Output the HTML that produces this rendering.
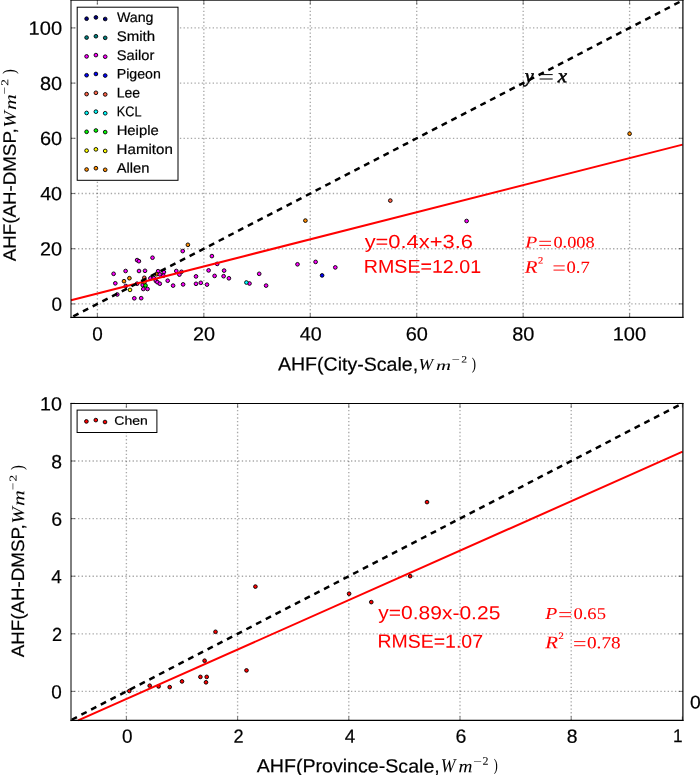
<!DOCTYPE html>
<html><head><meta charset="utf-8"><style>html,body{margin:0;padding:0;background:#fff;width:700px;height:775px;overflow:hidden;position:relative}</style></head><body>
<svg width="700" height="775" viewBox="0 0 700 775" style="position:absolute;left:0;top:0;will-change:transform">
<rect x="0" y="0" width="700" height="775" fill="#fff"/>
<line x1="97.40" y1="317.45" x2="97.40" y2="0.30" stroke="#000" stroke-opacity="0.34" stroke-width="1.35" stroke-dasharray="1.35 2.29" stroke-dashoffset="0.3"/>
<line x1="203.84" y1="317.45" x2="203.84" y2="0.30" stroke="#000" stroke-opacity="0.34" stroke-width="1.35" stroke-dasharray="1.35 2.29" stroke-dashoffset="0.3"/>
<line x1="310.28" y1="317.45" x2="310.28" y2="0.30" stroke="#000" stroke-opacity="0.34" stroke-width="1.35" stroke-dasharray="1.35 2.29" stroke-dashoffset="0.3"/>
<line x1="416.72" y1="317.45" x2="416.72" y2="0.30" stroke="#000" stroke-opacity="0.34" stroke-width="1.35" stroke-dasharray="1.35 2.29" stroke-dashoffset="0.3"/>
<line x1="523.16" y1="317.45" x2="523.16" y2="0.30" stroke="#000" stroke-opacity="0.34" stroke-width="1.35" stroke-dasharray="1.35 2.29" stroke-dashoffset="0.3"/>
<line x1="629.60" y1="317.45" x2="629.60" y2="0.30" stroke="#000" stroke-opacity="0.34" stroke-width="1.35" stroke-dasharray="1.35 2.29" stroke-dashoffset="0.3"/>
<line x1="71.00" y1="303.90" x2="682.90" y2="303.90" stroke="#000" stroke-opacity="0.34" stroke-width="1.35" stroke-dasharray="1.35 2.29" stroke-dashoffset="0.3"/>
<line x1="71.00" y1="248.70" x2="682.90" y2="248.70" stroke="#000" stroke-opacity="0.34" stroke-width="1.35" stroke-dasharray="1.35 2.29" stroke-dashoffset="0.3"/>
<line x1="71.00" y1="193.50" x2="682.90" y2="193.50" stroke="#000" stroke-opacity="0.34" stroke-width="1.35" stroke-dasharray="1.35 2.29" stroke-dashoffset="0.3"/>
<line x1="71.00" y1="138.30" x2="682.90" y2="138.30" stroke="#000" stroke-opacity="0.34" stroke-width="1.35" stroke-dasharray="1.35 2.29" stroke-dashoffset="0.3"/>
<line x1="71.00" y1="83.10" x2="682.90" y2="83.10" stroke="#000" stroke-opacity="0.34" stroke-width="1.35" stroke-dasharray="1.35 2.29" stroke-dashoffset="0.3"/>
<line x1="71.00" y1="27.90" x2="682.90" y2="27.90" stroke="#000" stroke-opacity="0.34" stroke-width="1.35" stroke-dasharray="1.35 2.29" stroke-dashoffset="0.3"/>
<circle cx="113.60" cy="273.80" r="1.85" fill="#ff00ff" stroke="#000" stroke-width="0.9"/>
<circle cx="115.30" cy="283.30" r="1.85" fill="#ff00ff" stroke="#000" stroke-width="0.9"/>
<circle cx="117.30" cy="294.50" r="1.85" fill="#ff00ff" stroke="#000" stroke-width="0.9"/>
<circle cx="124.00" cy="281.20" r="1.85" fill="#ff8c00" stroke="#000" stroke-width="0.9"/>
<circle cx="125.60" cy="271.00" r="1.85" fill="#ff00ff" stroke="#000" stroke-width="0.9"/>
<circle cx="125.80" cy="286.00" r="1.85" fill="#ff00ff" stroke="#000" stroke-width="0.9"/>
<circle cx="129.40" cy="278.20" r="1.85" fill="#ff8c00" stroke="#000" stroke-width="0.9"/>
<circle cx="130.00" cy="289.90" r="1.85" fill="#ffff00" stroke="#000" stroke-width="0.9"/>
<circle cx="134.30" cy="298.30" r="1.85" fill="#ff00ff" stroke="#000" stroke-width="0.9"/>
<circle cx="137.10" cy="260.10" r="1.85" fill="#ff00ff" stroke="#000" stroke-width="0.9"/>
<circle cx="138.90" cy="261.20" r="1.85" fill="#ff00ff" stroke="#000" stroke-width="0.9"/>
<circle cx="137.10" cy="283.70" r="1.85" fill="#ff00ff" stroke="#000" stroke-width="0.9"/>
<circle cx="139.00" cy="271.00" r="1.85" fill="#ff00ff" stroke="#000" stroke-width="0.9"/>
<circle cx="141.20" cy="298.20" r="1.85" fill="#ff00ff" stroke="#000" stroke-width="0.9"/>
<circle cx="142.70" cy="285.00" r="1.85" fill="#ff00ff" stroke="#000" stroke-width="0.9"/>
<circle cx="143.30" cy="289.00" r="1.85" fill="#ff00ff" stroke="#000" stroke-width="0.9"/>
<circle cx="144.40" cy="282.40" r="1.85" fill="#ff8c00" stroke="#000" stroke-width="0.9"/>
<circle cx="144.30" cy="277.80" r="1.85" fill="#ff6347" stroke="#000" stroke-width="0.9"/>
<circle cx="145.00" cy="270.80" r="1.85" fill="#ff00ff" stroke="#000" stroke-width="0.9"/>
<circle cx="145.50" cy="285.50" r="1.85" fill="#00ff00" stroke="#000" stroke-width="0.9"/>
<circle cx="147.50" cy="289.00" r="1.85" fill="#ff00ff" stroke="#000" stroke-width="0.9"/>
<circle cx="150.40" cy="278.30" r="1.85" fill="#ff00ff" stroke="#000" stroke-width="0.9"/>
<circle cx="153.80" cy="278.10" r="1.85" fill="#ff00ff" stroke="#000" stroke-width="0.9"/>
<circle cx="152.50" cy="257.70" r="1.85" fill="#ff00ff" stroke="#000" stroke-width="0.9"/>
<circle cx="158.10" cy="271.20" r="1.85" fill="#ff00ff" stroke="#000" stroke-width="0.9"/>
<circle cx="163.90" cy="272.10" r="1.85" fill="#ff00ff" stroke="#000" stroke-width="0.9"/>
<circle cx="156.60" cy="274.20" r="1.85" fill="#ff8c00" stroke="#000" stroke-width="0.9"/>
<circle cx="159.80" cy="274.40" r="1.85" fill="#ff00ff" stroke="#000" stroke-width="0.9"/>
<circle cx="163.40" cy="275.70" r="1.85" fill="#ff00ff" stroke="#000" stroke-width="0.9"/>
<circle cx="155.90" cy="280.90" r="1.85" fill="#ff00ff" stroke="#000" stroke-width="0.9"/>
<circle cx="157.40" cy="282.20" r="1.85" fill="#ff00ff" stroke="#000" stroke-width="0.9"/>
<circle cx="159.80" cy="283.70" r="1.85" fill="#ff00ff" stroke="#000" stroke-width="0.9"/>
<circle cx="167.70" cy="280.70" r="1.85" fill="#ff00ff" stroke="#000" stroke-width="0.9"/>
<circle cx="173.10" cy="285.60" r="1.85" fill="#ff00ff" stroke="#000" stroke-width="0.9"/>
<circle cx="176.30" cy="271.00" r="1.85" fill="#ff00ff" stroke="#000" stroke-width="0.9"/>
<circle cx="181.50" cy="271.80" r="1.85" fill="#ff00ff" stroke="#000" stroke-width="0.9"/>
<circle cx="179.40" cy="274.60" r="1.85" fill="#ff00ff" stroke="#000" stroke-width="0.9"/>
<circle cx="183.10" cy="284.40" r="1.85" fill="#ff00ff" stroke="#000" stroke-width="0.9"/>
<circle cx="182.70" cy="251.10" r="1.85" fill="#ff00ff" stroke="#000" stroke-width="0.9"/>
<circle cx="187.90" cy="244.80" r="1.85" fill="#ff8c00" stroke="#000" stroke-width="0.9"/>
<circle cx="196.00" cy="276.40" r="1.85" fill="#ff00ff" stroke="#000" stroke-width="0.9"/>
<circle cx="196.00" cy="283.80" r="1.85" fill="#ff00ff" stroke="#000" stroke-width="0.9"/>
<circle cx="200.80" cy="282.80" r="1.85" fill="#ff00ff" stroke="#000" stroke-width="0.9"/>
<circle cx="207.00" cy="284.60" r="1.85" fill="#ff00ff" stroke="#000" stroke-width="0.9"/>
<circle cx="208.60" cy="270.40" r="1.85" fill="#ff00ff" stroke="#000" stroke-width="0.9"/>
<circle cx="211.90" cy="256.10" r="1.85" fill="#ff00ff" stroke="#000" stroke-width="0.9"/>
<circle cx="214.60" cy="275.90" r="1.85" fill="#ff00ff" stroke="#000" stroke-width="0.9"/>
<circle cx="217.20" cy="263.90" r="1.85" fill="#ff00ff" stroke="#000" stroke-width="0.9"/>
<circle cx="223.60" cy="276.20" r="1.85" fill="#ff00ff" stroke="#000" stroke-width="0.9"/>
<circle cx="224.10" cy="270.60" r="1.85" fill="#ff00ff" stroke="#000" stroke-width="0.9"/>
<circle cx="228.90" cy="278.30" r="1.85" fill="#ff00ff" stroke="#000" stroke-width="0.9"/>
<circle cx="249.50" cy="283.50" r="1.85" fill="#ff00ff" stroke="#000" stroke-width="0.9"/>
<circle cx="246.40" cy="282.50" r="1.85" fill="#00ffff" stroke="#000" stroke-width="0.9"/>
<circle cx="259.20" cy="273.80" r="1.85" fill="#ff00ff" stroke="#000" stroke-width="0.9"/>
<circle cx="266.10" cy="285.60" r="1.85" fill="#ff00ff" stroke="#000" stroke-width="0.9"/>
<circle cx="297.50" cy="264.30" r="1.85" fill="#ff00ff" stroke="#000" stroke-width="0.9"/>
<circle cx="305.40" cy="220.60" r="1.85" fill="#ff8c00" stroke="#000" stroke-width="0.9"/>
<circle cx="315.60" cy="261.90" r="1.85" fill="#ff00ff" stroke="#000" stroke-width="0.9"/>
<circle cx="322.10" cy="275.40" r="1.85" fill="#0000ff" stroke="#000" stroke-width="0.9"/>
<circle cx="335.30" cy="267.40" r="1.85" fill="#ff00ff" stroke="#000" stroke-width="0.9"/>
<circle cx="390.30" cy="200.60" r="1.85" fill="#ff6347" stroke="#000" stroke-width="0.9"/>
<circle cx="466.60" cy="221.00" r="1.85" fill="#ff00ff" stroke="#000" stroke-width="0.9"/>
<circle cx="629.60" cy="133.70" r="1.85" fill="#ff8c00" stroke="#000" stroke-width="0.9"/>
<line x1="71.0" y1="300.2" x2="682.6" y2="144.6" stroke="#ff0000" stroke-width="2"/>
<line x1="70.79" y1="317.70" x2="682.82" y2="0.30" stroke="#000" stroke-width="2.5" stroke-dasharray="5.9 5.02" stroke-dashoffset="-2.8"/>
<line x1="97.40" y1="317.45" x2="97.40" y2="313.45" stroke="#000" stroke-opacity="0.5" stroke-width="1.1"/>
<line x1="97.40" y1="0.30" x2="97.40" y2="4.30" stroke="#000" stroke-opacity="0.5" stroke-width="1.1"/>
<line x1="203.84" y1="317.45" x2="203.84" y2="313.45" stroke="#000" stroke-opacity="0.5" stroke-width="1.1"/>
<line x1="203.84" y1="0.30" x2="203.84" y2="4.30" stroke="#000" stroke-opacity="0.5" stroke-width="1.1"/>
<line x1="310.28" y1="317.45" x2="310.28" y2="313.45" stroke="#000" stroke-opacity="0.5" stroke-width="1.1"/>
<line x1="310.28" y1="0.30" x2="310.28" y2="4.30" stroke="#000" stroke-opacity="0.5" stroke-width="1.1"/>
<line x1="416.72" y1="317.45" x2="416.72" y2="313.45" stroke="#000" stroke-opacity="0.5" stroke-width="1.1"/>
<line x1="416.72" y1="0.30" x2="416.72" y2="4.30" stroke="#000" stroke-opacity="0.5" stroke-width="1.1"/>
<line x1="523.16" y1="317.45" x2="523.16" y2="313.45" stroke="#000" stroke-opacity="0.5" stroke-width="1.1"/>
<line x1="523.16" y1="0.30" x2="523.16" y2="4.30" stroke="#000" stroke-opacity="0.5" stroke-width="1.1"/>
<line x1="629.60" y1="317.45" x2="629.60" y2="313.45" stroke="#000" stroke-opacity="0.5" stroke-width="1.1"/>
<line x1="629.60" y1="0.30" x2="629.60" y2="4.30" stroke="#000" stroke-opacity="0.5" stroke-width="1.1"/>
<line x1="71.00" y1="303.90" x2="75.00" y2="303.90" stroke="#000" stroke-opacity="0.5" stroke-width="1.1"/>
<line x1="682.90" y1="303.90" x2="678.90" y2="303.90" stroke="#000" stroke-opacity="0.5" stroke-width="1.1"/>
<line x1="71.00" y1="248.70" x2="75.00" y2="248.70" stroke="#000" stroke-opacity="0.5" stroke-width="1.1"/>
<line x1="682.90" y1="248.70" x2="678.90" y2="248.70" stroke="#000" stroke-opacity="0.5" stroke-width="1.1"/>
<line x1="71.00" y1="193.50" x2="75.00" y2="193.50" stroke="#000" stroke-opacity="0.5" stroke-width="1.1"/>
<line x1="682.90" y1="193.50" x2="678.90" y2="193.50" stroke="#000" stroke-opacity="0.5" stroke-width="1.1"/>
<line x1="71.00" y1="138.30" x2="75.00" y2="138.30" stroke="#000" stroke-opacity="0.5" stroke-width="1.1"/>
<line x1="682.90" y1="138.30" x2="678.90" y2="138.30" stroke="#000" stroke-opacity="0.5" stroke-width="1.1"/>
<line x1="71.00" y1="83.10" x2="75.00" y2="83.10" stroke="#000" stroke-opacity="0.5" stroke-width="1.1"/>
<line x1="682.90" y1="83.10" x2="678.90" y2="83.10" stroke="#000" stroke-opacity="0.5" stroke-width="1.1"/>
<line x1="71.00" y1="27.90" x2="75.00" y2="27.90" stroke="#000" stroke-opacity="0.5" stroke-width="1.1"/>
<line x1="682.90" y1="27.90" x2="678.90" y2="27.90" stroke="#000" stroke-opacity="0.5" stroke-width="1.1"/>
<line x1="71.0" y1="-0.30" x2="71.0" y2="318.10" stroke="#000" stroke-width="1.0"/>
<line x1="682.9" y1="-0.30" x2="682.9" y2="318.10" stroke="#000" stroke-width="1.2"/>
<line x1="70.50" y1="0.2" x2="683.50" y2="0.2" stroke="#000" stroke-width="1.0"/>
<line x1="70.50" y1="317.45" x2="683.50" y2="317.45" stroke="#000" stroke-width="1.3"/>
<text transform="matrix(0.9894,0.001,0,1,92.30,340.38)" font-family='"Liberation Sans", sans-serif' font-size="19.14" fill="#000" stroke="#000" stroke-width="0.2">0</text>
<text transform="matrix(1.0367,0.001,0,1,192.88,340.38)" font-family='"Liberation Sans", sans-serif' font-size="19.14" fill="#000" stroke="#000" stroke-width="0.2">20</text>
<text transform="matrix(1.0295,0.001,0,1,299.69,340.38)" font-family='"Liberation Sans", sans-serif' font-size="19.14" fill="#000" stroke="#000" stroke-width="0.2">40</text>
<text transform="matrix(1.0413,0.001,0,1,405.71,340.38)" font-family='"Liberation Sans", sans-serif' font-size="19.14" fill="#000" stroke="#000" stroke-width="0.2">60</text>
<text transform="matrix(1.0408,0.001,0,1,512.20,340.38)" font-family='"Liberation Sans", sans-serif' font-size="19.14" fill="#000" stroke="#000" stroke-width="0.2">80</text>
<text transform="matrix(1.0493,0.001,0,1,612.68,340.38)" font-family='"Liberation Sans", sans-serif' font-size="19.14" fill="#000" stroke="#000" stroke-width="0.2">100</text>
<text transform="matrix(0.9894,0.001,0,1,51.50,310.70)" font-family='"Liberation Sans", sans-serif' font-size="19.14" fill="#000" stroke="#000" stroke-width="0.2">0</text>
<text transform="matrix(1.0367,0.001,0,1,40.02,255.50)" font-family='"Liberation Sans", sans-serif' font-size="19.14" fill="#000" stroke="#000" stroke-width="0.2">20</text>
<text transform="matrix(1.0295,0.001,0,1,40.17,200.30)" font-family='"Liberation Sans", sans-serif' font-size="19.14" fill="#000" stroke="#000" stroke-width="0.2">40</text>
<text transform="matrix(1.0413,0.001,0,1,39.92,145.10)" font-family='"Liberation Sans", sans-serif' font-size="19.14" fill="#000" stroke="#000" stroke-width="0.2">60</text>
<text transform="matrix(1.0408,0.001,0,1,39.93,89.90)" font-family='"Liberation Sans", sans-serif' font-size="19.14" fill="#000" stroke="#000" stroke-width="0.2">80</text>
<text transform="matrix(1.0493,0.001,0,1,28.61,34.70)" font-family='"Liberation Sans", sans-serif' font-size="19.14" fill="#000" stroke="#000" stroke-width="0.2">100</text>
<text transform="matrix(1.0311,0.001,0,1,277.95,370.55)" font-family='"Liberation Sans", sans-serif' font-size="18.99" fill="#000" stroke="#000" stroke-width="0.2">AHF(City-Scale,</text>
<text transform="matrix(1.0643,0.001,0,1,418.50,369.70)" font-family='"Liberation Serif", serif' font-size="16.57" fill="#000" stroke="#000" stroke-width="0.05" style="font-style:italic">W</text>
<text transform="matrix(1.5022,0.001,0,1,436.12,369.95)" font-family='"Liberation Serif", serif' font-size="13.83" fill="#000" stroke="#000" stroke-width="0.05" style="font-style:italic">m</text>
<text transform="matrix(1.4194,0.001,0,1,451.84,362.40)" font-family='"Liberation Serif", serif' font-size="10.00" fill="#000" stroke="#000" stroke-width="0.05">−</text>
<text transform="matrix(1.1931,0.001,0,1,461.32,362.55)" font-family='"Liberation Serif", serif' font-size="9.85" fill="#000" stroke="#000" stroke-width="0.05">2</text>
<text transform="matrix(0.7549,0.001,0,1,471.67,369.14)" font-family='"Liberation Serif", serif' font-size="16.81" fill="#000" stroke="#000" stroke-width="0.05">)</text>
<g transform="rotate(-90)">
<text transform="matrix(1.0446,0.001,0,1,-261.35,15.65)" font-family='"Liberation Sans", sans-serif' font-size="17.97" fill="#000" stroke="#000" stroke-width="0.2">AHF(AH-DMSP,</text>
<text transform="matrix(1.0902,0.001,0,1,-127.52,15.68)" font-family='"Liberation Serif", serif' font-size="17.91" fill="#000" stroke="#000" stroke-width="0.05" style="font-style:italic">W</text>
<text transform="matrix(1.3172,0.001,0,1,-110.02,15.95)" font-family='"Liberation Serif", serif' font-size="16.60" fill="#000" stroke="#000" stroke-width="0.05" style="font-style:italic">m</text>
<text transform="matrix(1.3548,0.001,0,1,-94.43,7.90)" font-family='"Liberation Serif", serif' font-size="10.00" fill="#000" stroke="#000" stroke-width="0.05">−</text>
<text transform="matrix(1.2674,0.001,0,1,-85.65,8.35)" font-family='"Liberation Serif", serif' font-size="10.45" fill="#000" stroke="#000" stroke-width="0.05">2</text>
<text transform="matrix(0.8261,0.001,0,1,-74.09,14.75)" font-family='"Liberation Serif", serif' font-size="17.69" fill="#000" stroke="#000" stroke-width="0.05">)</text>
</g>
<rect x="77.2" y="7.2" width="100.8" height="173.1" fill="#fff" stroke="#000" stroke-width="1"/>
<circle cx="86.60" cy="18.70" r="1.85" fill="#000080" stroke="#000" stroke-width="0.9"/>
<circle cx="95.90" cy="17.40" r="1.85" fill="#000080" stroke="#000" stroke-width="0.9"/>
<circle cx="105.20" cy="19.00" r="1.85" fill="#000080" stroke="#000" stroke-width="0.9"/>
<text transform="matrix(1.0243,0.001,0,1,116.89,22.08)" font-family='"Liberation Sans", sans-serif' font-size="13.89" fill="#000" stroke="#000" stroke-width="0.2">Wang</text>
<circle cx="86.60" cy="37.55" r="1.85" fill="#008080" stroke="#000" stroke-width="0.9"/>
<circle cx="95.90" cy="36.25" r="1.85" fill="#008080" stroke="#000" stroke-width="0.9"/>
<circle cx="105.20" cy="37.85" r="1.85" fill="#008080" stroke="#000" stroke-width="0.9"/>
<text transform="matrix(1.0725,0.001,0,1,116.69,41.08)" font-family='"Liberation Sans", sans-serif' font-size="14.02" fill="#000" stroke="#000" stroke-width="0.2">Smith</text>
<circle cx="86.60" cy="56.40" r="1.85" fill="#ff00ff" stroke="#000" stroke-width="0.9"/>
<circle cx="95.90" cy="55.10" r="1.85" fill="#ff00ff" stroke="#000" stroke-width="0.9"/>
<circle cx="105.20" cy="56.70" r="1.85" fill="#ff00ff" stroke="#000" stroke-width="0.9"/>
<text transform="matrix(1.0491,0.001,0,1,116.70,59.90)" font-family='"Liberation Sans", sans-serif' font-size="14.02" fill="#000" stroke="#000" stroke-width="0.2">Sailor</text>
<circle cx="86.60" cy="75.25" r="1.85" fill="#0000ff" stroke="#000" stroke-width="0.9"/>
<circle cx="95.90" cy="73.95" r="1.85" fill="#0000ff" stroke="#000" stroke-width="0.9"/>
<circle cx="105.20" cy="75.55" r="1.85" fill="#0000ff" stroke="#000" stroke-width="0.9"/>
<text transform="matrix(1.0288,0.001,0,1,116.69,78.56)" font-family='"Liberation Sans", sans-serif' font-size="13.80" fill="#000" stroke="#000" stroke-width="0.2">Pigeon</text>
<circle cx="86.60" cy="94.10" r="1.85" fill="#ff6347" stroke="#000" stroke-width="0.9"/>
<circle cx="95.90" cy="92.80" r="1.85" fill="#ff6347" stroke="#000" stroke-width="0.9"/>
<circle cx="105.20" cy="94.40" r="1.85" fill="#ff6347" stroke="#000" stroke-width="0.9"/>
<text transform="matrix(0.9884,0.001,0,1,116.71,97.54)" font-family='"Liberation Sans", sans-serif' font-size="14.16" fill="#000" stroke="#000" stroke-width="0.2">Lee</text>
<circle cx="86.60" cy="112.95" r="1.85" fill="#00ffff" stroke="#000" stroke-width="0.9"/>
<circle cx="95.90" cy="111.65" r="1.85" fill="#00ffff" stroke="#000" stroke-width="0.9"/>
<circle cx="105.20" cy="113.25" r="1.85" fill="#00ffff" stroke="#000" stroke-width="0.9"/>
<text transform="matrix(0.8968,0.001,0,1,116.82,116.36)" font-family='"Liberation Sans", sans-serif' font-size="14.14" fill="#000" stroke="#000" stroke-width="0.2">KCL</text>
<circle cx="86.60" cy="131.80" r="1.85" fill="#00ff00" stroke="#000" stroke-width="0.9"/>
<circle cx="95.90" cy="130.50" r="1.85" fill="#00ff00" stroke="#000" stroke-width="0.9"/>
<circle cx="105.20" cy="132.10" r="1.85" fill="#00ff00" stroke="#000" stroke-width="0.9"/>
<text transform="matrix(1.0760,0.001,0,1,116.64,135.02)" font-family='"Liberation Sans", sans-serif' font-size="13.80" fill="#000" stroke="#000" stroke-width="0.2">Heiple</text>
<circle cx="86.60" cy="150.65" r="1.85" fill="#ffff00" stroke="#000" stroke-width="0.9"/>
<circle cx="95.90" cy="149.35" r="1.85" fill="#ffff00" stroke="#000" stroke-width="0.9"/>
<circle cx="105.20" cy="150.95" r="1.85" fill="#ffff00" stroke="#000" stroke-width="0.9"/>
<text transform="matrix(1.0782,0.001,0,1,116.62,154.00)" font-family='"Liberation Sans", sans-serif' font-size="14.02" fill="#000" stroke="#000" stroke-width="0.2">Hamiton</text>
<circle cx="86.60" cy="169.50" r="1.85" fill="#ff8c00" stroke="#000" stroke-width="0.9"/>
<circle cx="95.90" cy="168.20" r="1.85" fill="#ff8c00" stroke="#000" stroke-width="0.9"/>
<circle cx="105.20" cy="169.80" r="1.85" fill="#ff8c00" stroke="#000" stroke-width="0.9"/>
<text transform="matrix(1.0516,0.001,0,1,116.63,172.82)" font-family='"Liberation Sans", sans-serif' font-size="14.02" fill="#000" stroke="#000" stroke-width="0.2">Allen</text>
<text transform="matrix(1.1623,0.001,0,1,364.64,248.00)" font-family='"Liberation Sans", sans-serif' font-size="18.84" fill="#ff0000" stroke="#ff0000" stroke-width="0">y=0.4x+3.6</text>
<text transform="matrix(1.0506,0.001,0,1,363.78,272.80)" font-family='"Liberation Sans", sans-serif' font-size="18.70" fill="#ff0000" stroke="#ff0000" stroke-width="0.05">RMSE=12.01</text>
<text transform="matrix(1.1924,0.001,0,1,525.15,247.55)" font-family='"Liberation Serif", serif' font-size="16.49" fill="#ff0000" stroke="#ff0000" stroke-width="0.05" style="font-style:italic">P</text>
<line x1="539.3" y1="241.3" x2="551.0" y2="241.3" stroke="#ff0000" stroke-width="0.95"/><line x1="539.3" y1="245.4" x2="551.0" y2="245.4" stroke="#ff0000" stroke-width="0.95"/>
<text transform="matrix(1.1310,0.001,0,1,553.42,247.51)" font-family='"Liberation Serif", serif' font-size="16.18" fill="#ff0000" stroke="#ff0000" stroke-width="0.05">0.008</text>
<text transform="matrix(1.1764,0.001,0,1,524.85,272.65)" font-family='"Liberation Serif", serif' font-size="17.71" fill="#ff0000" stroke="#ff0000" stroke-width="0.05" style="font-style:italic">R</text>
<text transform="matrix(1.0662,0.001,0,1,538.03,263.60)" font-family='"Liberation Serif", serif' font-size="9.85" fill="#ff0000" stroke="#ff0000" stroke-width="0.15">2</text>
<line x1="553.5" y1="265.9" x2="564.7" y2="265.9" stroke="#ff0000" stroke-width="0.95"/><line x1="553.5" y1="270.1" x2="564.7" y2="270.1" stroke="#ff0000" stroke-width="0.95"/>
<text transform="matrix(1.1070,0.001,0,1,566.61,272.70)" font-family='"Liberation Serif", serif' font-size="16.76" fill="#ff0000" stroke="#ff0000" stroke-width="0.05">0.7</text>
<text transform="matrix(1.0246,0.001,0,1,524.87,82.21)" font-family='"Liberation Serif", serif' font-size="19.70" fill="#000" stroke="#000" stroke-width="0.55" style="font-style:italic">y</text>
<line x1="539.6" y1="74.6" x2="552.7" y2="74.6" stroke="#000" stroke-width="1.0"/><line x1="539.6" y1="79.0" x2="552.7" y2="79.0" stroke="#000" stroke-width="1.0"/>
<text transform="matrix(1.0677,0.001,0,1,557.76,82.15)" font-family='"Liberation Serif", serif' font-size="19.57" fill="#000" stroke="#000" stroke-width="0.55" style="font-style:italic">x</text>
<line x1="126.40" y1="720.45" x2="126.40" y2="403.45" stroke="#000" stroke-opacity="0.34" stroke-width="1.35" stroke-dasharray="1.35 2.29" stroke-dashoffset="0.3"/>
<line x1="237.60" y1="720.45" x2="237.60" y2="403.45" stroke="#000" stroke-opacity="0.34" stroke-width="1.35" stroke-dasharray="1.35 2.29" stroke-dashoffset="0.3"/>
<line x1="348.80" y1="720.45" x2="348.80" y2="403.45" stroke="#000" stroke-opacity="0.34" stroke-width="1.35" stroke-dasharray="1.35 2.29" stroke-dashoffset="0.3"/>
<line x1="460.00" y1="720.45" x2="460.00" y2="403.45" stroke="#000" stroke-opacity="0.34" stroke-width="1.35" stroke-dasharray="1.35 2.29" stroke-dashoffset="0.3"/>
<line x1="571.20" y1="720.45" x2="571.20" y2="403.45" stroke="#000" stroke-opacity="0.34" stroke-width="1.35" stroke-dasharray="1.35 2.29" stroke-dashoffset="0.3"/>
<line x1="71.00" y1="691.40" x2="682.90" y2="691.40" stroke="#000" stroke-opacity="0.34" stroke-width="1.35" stroke-dasharray="1.35 2.29" stroke-dashoffset="0.3"/>
<line x1="71.00" y1="633.80" x2="682.90" y2="633.80" stroke="#000" stroke-opacity="0.34" stroke-width="1.35" stroke-dasharray="1.35 2.29" stroke-dashoffset="0.3"/>
<line x1="71.00" y1="576.20" x2="682.90" y2="576.20" stroke="#000" stroke-opacity="0.34" stroke-width="1.35" stroke-dasharray="1.35 2.29" stroke-dashoffset="0.3"/>
<line x1="71.00" y1="518.60" x2="682.90" y2="518.60" stroke="#000" stroke-opacity="0.34" stroke-width="1.35" stroke-dasharray="1.35 2.29" stroke-dashoffset="0.3"/>
<line x1="71.00" y1="461.00" x2="682.90" y2="461.00" stroke="#000" stroke-opacity="0.34" stroke-width="1.35" stroke-dasharray="1.35 2.29" stroke-dashoffset="0.3"/>
<circle cx="129.30" cy="691.00" r="1.85" fill="#ff0000" stroke="#000" stroke-width="0.9"/>
<circle cx="149.70" cy="685.70" r="1.85" fill="#ff0000" stroke="#000" stroke-width="0.9"/>
<circle cx="158.60" cy="686.40" r="1.85" fill="#ff0000" stroke="#000" stroke-width="0.9"/>
<circle cx="169.70" cy="687.10" r="1.85" fill="#ff0000" stroke="#000" stroke-width="0.9"/>
<circle cx="182.00" cy="681.40" r="1.85" fill="#ff0000" stroke="#000" stroke-width="0.9"/>
<circle cx="200.40" cy="676.90" r="1.85" fill="#ff0000" stroke="#000" stroke-width="0.9"/>
<circle cx="206.70" cy="676.90" r="1.85" fill="#ff0000" stroke="#000" stroke-width="0.9"/>
<circle cx="206.00" cy="682.30" r="1.85" fill="#ff0000" stroke="#000" stroke-width="0.9"/>
<circle cx="204.60" cy="660.70" r="1.85" fill="#ff0000" stroke="#000" stroke-width="0.9"/>
<circle cx="215.50" cy="631.80" r="1.85" fill="#ff0000" stroke="#000" stroke-width="0.9"/>
<circle cx="246.50" cy="670.40" r="1.85" fill="#ff0000" stroke="#000" stroke-width="0.9"/>
<circle cx="255.40" cy="586.60" r="1.85" fill="#ff0000" stroke="#000" stroke-width="0.9"/>
<circle cx="349.10" cy="593.70" r="1.85" fill="#ff0000" stroke="#000" stroke-width="0.9"/>
<circle cx="371.30" cy="602.10" r="1.85" fill="#ff0000" stroke="#000" stroke-width="0.9"/>
<circle cx="410.20" cy="576.20" r="1.85" fill="#ff0000" stroke="#000" stroke-width="0.9"/>
<circle cx="427.00" cy="502.10" r="1.85" fill="#ff0000" stroke="#000" stroke-width="0.9"/>
<line x1="78.2" y1="720.4" x2="682.6" y2="451.7" stroke="#ff0000" stroke-width="2"/>
<line x1="70.80" y1="720.20" x2="682.40" y2="403.40" stroke="#000" stroke-width="2.5" stroke-dasharray="5.9 5.03" stroke-dashoffset="-1.0"/>
<line x1="126.40" y1="720.45" x2="126.40" y2="716.45" stroke="#000" stroke-opacity="0.5" stroke-width="1.1"/>
<line x1="126.40" y1="403.45" x2="126.40" y2="407.45" stroke="#000" stroke-opacity="0.5" stroke-width="1.1"/>
<line x1="237.60" y1="720.45" x2="237.60" y2="716.45" stroke="#000" stroke-opacity="0.5" stroke-width="1.1"/>
<line x1="237.60" y1="403.45" x2="237.60" y2="407.45" stroke="#000" stroke-opacity="0.5" stroke-width="1.1"/>
<line x1="348.80" y1="720.45" x2="348.80" y2="716.45" stroke="#000" stroke-opacity="0.5" stroke-width="1.1"/>
<line x1="348.80" y1="403.45" x2="348.80" y2="407.45" stroke="#000" stroke-opacity="0.5" stroke-width="1.1"/>
<line x1="460.00" y1="720.45" x2="460.00" y2="716.45" stroke="#000" stroke-opacity="0.5" stroke-width="1.1"/>
<line x1="460.00" y1="403.45" x2="460.00" y2="407.45" stroke="#000" stroke-opacity="0.5" stroke-width="1.1"/>
<line x1="571.20" y1="720.45" x2="571.20" y2="716.45" stroke="#000" stroke-opacity="0.5" stroke-width="1.1"/>
<line x1="571.20" y1="403.45" x2="571.20" y2="407.45" stroke="#000" stroke-opacity="0.5" stroke-width="1.1"/>
<line x1="682.40" y1="720.45" x2="682.40" y2="716.45" stroke="#000" stroke-opacity="0.5" stroke-width="1.1"/>
<line x1="682.40" y1="403.45" x2="682.40" y2="407.45" stroke="#000" stroke-opacity="0.5" stroke-width="1.1"/>
<line x1="71.00" y1="691.40" x2="75.00" y2="691.40" stroke="#000" stroke-opacity="0.5" stroke-width="1.1"/>
<line x1="682.90" y1="691.40" x2="678.90" y2="691.40" stroke="#000" stroke-opacity="0.5" stroke-width="1.1"/>
<line x1="71.00" y1="633.80" x2="75.00" y2="633.80" stroke="#000" stroke-opacity="0.5" stroke-width="1.1"/>
<line x1="682.90" y1="633.80" x2="678.90" y2="633.80" stroke="#000" stroke-opacity="0.5" stroke-width="1.1"/>
<line x1="71.00" y1="576.20" x2="75.00" y2="576.20" stroke="#000" stroke-opacity="0.5" stroke-width="1.1"/>
<line x1="682.90" y1="576.20" x2="678.90" y2="576.20" stroke="#000" stroke-opacity="0.5" stroke-width="1.1"/>
<line x1="71.00" y1="518.60" x2="75.00" y2="518.60" stroke="#000" stroke-opacity="0.5" stroke-width="1.1"/>
<line x1="682.90" y1="518.60" x2="678.90" y2="518.60" stroke="#000" stroke-opacity="0.5" stroke-width="1.1"/>
<line x1="71.00" y1="461.00" x2="75.00" y2="461.00" stroke="#000" stroke-opacity="0.5" stroke-width="1.1"/>
<line x1="682.90" y1="461.00" x2="678.90" y2="461.00" stroke="#000" stroke-opacity="0.5" stroke-width="1.1"/>
<line x1="71.00" y1="403.40" x2="75.00" y2="403.40" stroke="#000" stroke-opacity="0.5" stroke-width="1.1"/>
<line x1="682.90" y1="403.40" x2="678.90" y2="403.40" stroke="#000" stroke-opacity="0.5" stroke-width="1.1"/>
<line x1="71.0" y1="402.90" x2="71.0" y2="721.10" stroke="#000" stroke-width="1.0"/>
<line x1="682.9" y1="402.90" x2="682.9" y2="721.10" stroke="#000" stroke-width="1.2"/>
<line x1="70.50" y1="403.45" x2="683.50" y2="403.45" stroke="#000" stroke-width="1.1"/>
<line x1="70.50" y1="720.45" x2="683.50" y2="720.45" stroke="#000" stroke-width="1.3"/>
<text transform="matrix(0.9894,0.001,0,1,122.10,742.78)" font-family='"Liberation Sans", sans-serif' font-size="19.14" fill="#000" stroke="#000" stroke-width="0.2">0</text>
<text transform="matrix(0.9563,0.001,0,1,233.55,742.70)" font-family='"Liberation Sans", sans-serif' font-size="19.03" fill="#000" stroke="#000" stroke-width="0.2">2</text>
<text transform="matrix(0.9920,0.001,0,1,344.65,742.70)" font-family='"Liberation Sans", sans-serif' font-size="19.04" fill="#000" stroke="#000" stroke-width="0.2">4</text>
<text transform="matrix(1.0213,0.001,0,1,455.48,742.78)" font-family='"Liberation Sans", sans-serif' font-size="19.14" fill="#000" stroke="#000" stroke-width="0.2">6</text>
<text transform="matrix(1.0104,0.001,0,1,566.78,742.78)" font-family='"Liberation Sans", sans-serif' font-size="19.14" fill="#000" stroke="#000" stroke-width="0.2">8</text>
<text transform="matrix(0.9222,0.001,0,1,672.96,742.35)" font-family='"Liberation Sans", sans-serif' font-size="18.70" fill="#000" stroke="#000" stroke-width="0.2">1</text>
<text transform="matrix(1.0501,0.001,0,1,689.88,708.57)" font-family='"Liberation Sans", sans-serif' font-size="18.45" fill="#000" stroke="#000" stroke-width="0.2">0</text>
<text transform="matrix(0.9894,0.001,0,1,51.35,698.55)" font-family='"Liberation Sans", sans-serif' font-size="19.14" fill="#000" stroke="#000" stroke-width="0.2">0</text>
<text transform="matrix(0.9563,0.001,0,1,52.01,641.01)" font-family='"Liberation Sans", sans-serif' font-size="19.03" fill="#000" stroke="#000" stroke-width="0.2">2</text>
<text transform="matrix(0.9920,0.001,0,1,51.28,583.32)" font-family='"Liberation Sans", sans-serif' font-size="19.04" fill="#000" stroke="#000" stroke-width="0.2">4</text>
<text transform="matrix(1.0213,0.001,0,1,51.13,525.75)" font-family='"Liberation Sans", sans-serif' font-size="19.14" fill="#000" stroke="#000" stroke-width="0.2">6</text>
<text transform="matrix(1.0104,0.001,0,1,51.24,468.15)" font-family='"Liberation Sans", sans-serif' font-size="19.14" fill="#000" stroke="#000" stroke-width="0.2">8</text>
<text transform="matrix(1.0297,0.001,0,1,40.01,410.55)" font-family='"Liberation Sans", sans-serif' font-size="19.14" fill="#000" stroke="#000" stroke-width="0.2">10</text>
<text transform="matrix(1.0461,0.001,0,1,256.65,772.25)" font-family='"Liberation Sans", sans-serif' font-size="18.77" fill="#000" stroke="#000" stroke-width="0.2">AHF(Province-Scale,</text>
<text transform="matrix(0.9088,0.001,0,1,440.70,772.06)" font-family='"Liberation Serif", serif' font-size="19.40" fill="#000" stroke="#000" stroke-width="0.05" style="font-style:italic">W</text>
<text transform="matrix(1.0757,0.001,0,1,458.38,772.35)" font-family='"Liberation Serif", serif' font-size="17.87" fill="#000" stroke="#000" stroke-width="0.05" style="font-style:italic">m</text>
<text transform="matrix(1.5269,0.001,0,1,473.29,764.80)" font-family='"Liberation Serif", serif' font-size="10.00" fill="#000" stroke="#000" stroke-width="0.05">−</text>
<text transform="matrix(1.0421,0.001,0,1,482.61,764.65)" font-family='"Liberation Serif", serif' font-size="11.52" fill="#000" stroke="#000" stroke-width="0.05">2</text>
<text transform="matrix(0.7092,0.001,0,1,493.69,770.44)" font-family='"Liberation Serif", serif' font-size="16.81" fill="#000" stroke="#000" stroke-width="0.05">)</text>
<g transform="rotate(-90)">
<text transform="matrix(1.0446,0.001,0,1,-657.25,23.90)" font-family='"Liberation Sans", sans-serif' font-size="17.97" fill="#000" stroke="#000" stroke-width="0.2">AHF(AH-DMSP,</text>
<text transform="matrix(1.0902,0.001,0,1,-523.42,23.93)" font-family='"Liberation Serif", serif' font-size="17.91" fill="#000" stroke="#000" stroke-width="0.05" style="font-style:italic">W</text>
<text transform="matrix(1.3172,0.001,0,1,-505.92,24.20)" font-family='"Liberation Serif", serif' font-size="16.60" fill="#000" stroke="#000" stroke-width="0.05" style="font-style:italic">m</text>
<text transform="matrix(1.3548,0.001,0,1,-490.33,16.15)" font-family='"Liberation Serif", serif' font-size="10.00" fill="#000" stroke="#000" stroke-width="0.05">−</text>
<text transform="matrix(1.2674,0.001,0,1,-481.55,16.60)" font-family='"Liberation Serif", serif' font-size="10.45" fill="#000" stroke="#000" stroke-width="0.05">2</text>
<text transform="matrix(0.8261,0.001,0,1,-469.99,23.00)" font-family='"Liberation Serif", serif' font-size="17.69" fill="#000" stroke="#000" stroke-width="0.05">)</text>
</g>
<rect x="77.1" y="410.1" width="79.8" height="22.4" fill="#fff" stroke="#000" stroke-width="1"/>
<circle cx="86.40" cy="421.40" r="1.85" fill="#ff0000" stroke="#000" stroke-width="0.9"/>
<circle cx="95.80" cy="420.10" r="1.85" fill="#ff0000" stroke="#000" stroke-width="0.9"/>
<circle cx="105.00" cy="422.00" r="1.85" fill="#ff0000" stroke="#000" stroke-width="0.9"/>
<text transform="matrix(1.1451,0.001,0,1,114.35,424.73)" font-family='"Liberation Sans", sans-serif' font-size="12.24" fill="#000" stroke="#000" stroke-width="0.2">Chen</text>
<text transform="matrix(1.1159,0.001,0,1,378.24,619.10)" font-family='"Liberation Sans", sans-serif' font-size="18.84" fill="#ff0000" stroke="#ff0000" stroke-width="0">y=0.89x-0.25</text>
<text transform="matrix(1.0415,0.001,0,1,377.49,647.60)" font-family='"Liberation Sans", sans-serif' font-size="18.70" fill="#ff0000" stroke="#ff0000" stroke-width="0.05">RMSE=1.07</text>
<text transform="matrix(1.1815,0.001,0,1,545.25,618.95)" font-family='"Liberation Serif", serif' font-size="16.64" fill="#ff0000" stroke="#ff0000" stroke-width="0.05" style="font-style:italic">P</text>
<line x1="559.3" y1="612.6" x2="571.0" y2="612.6" stroke="#ff0000" stroke-width="0.95"/><line x1="559.3" y1="616.7" x2="571.0" y2="616.7" stroke="#ff0000" stroke-width="0.95"/>
<text transform="matrix(1.1409,0.001,0,1,573.41,618.91)" font-family='"Liberation Serif", serif' font-size="16.32" fill="#ff0000" stroke="#ff0000" stroke-width="0.05">0.65</text>
<text transform="matrix(1.1764,0.001,0,1,545.25,648.15)" font-family='"Liberation Serif", serif' font-size="17.71" fill="#ff0000" stroke="#ff0000" stroke-width="0.05" style="font-style:italic">R</text>
<text transform="matrix(1.0662,0.001,0,1,558.43,639.10)" font-family='"Liberation Serif", serif' font-size="9.85" fill="#ff0000" stroke="#ff0000" stroke-width="0.15">2</text>
<line x1="574.1" y1="641.6" x2="585.4" y2="641.6" stroke="#ff0000" stroke-width="0.95"/><line x1="574.1" y1="645.7" x2="585.4" y2="645.7" stroke="#ff0000" stroke-width="0.95"/>
<text transform="matrix(1.1501,0.001,0,1,586.98,648.20)" font-family='"Liberation Serif", serif' font-size="16.76" fill="#ff0000" stroke="#ff0000" stroke-width="0.05">0.78</text>
</svg>
</body></html>
